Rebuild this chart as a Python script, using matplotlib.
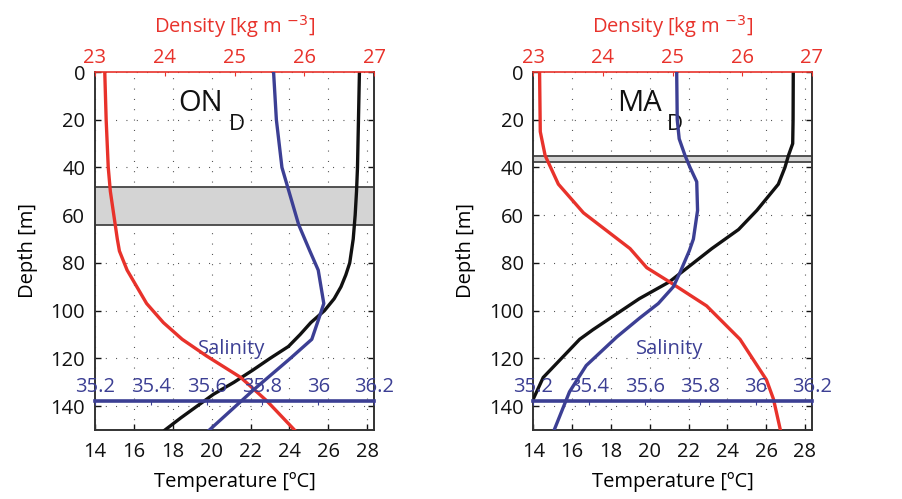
import matplotlib.pyplot as plt
import numpy as np

plt.rcParams['font.family'] = ['Open Sans', 'DejaVu Sans']

RED = '#e8322b'
BLUE = '#3c3f94'
BLACK = '#111111'

# ---- ON_D profiles (depth in m) ----
on_temp_depth = [0, 20, 40, 50, 60, 70, 80, 85, 90, 95, 100, 105, 110, 115, 120, 125, 130, 135, 140, 145, 150]
on_temp = [27.6, 27.55, 27.5, 27.45, 27.38, 27.28, 27.1, 26.9, 26.65, 26.3, 25.8, 25.1, 24.55, 23.95, 23.0,
           22.1, 21.15, 20.1, 19.25, 18.4, 17.6]
on_den_depth = [0, 20, 40, 50, 60, 70, 75, 83, 97, 105, 112, 119, 128, 138, 150]
on_den = [23.14, 23.16, 23.19, 23.22, 23.27, 23.32, 23.35, 23.46, 23.74, 23.98, 24.25, 24.6, 25.09, 25.47, 25.86]
on_sal_depth = [0, 20, 40, 48, 64, 75, 83, 97, 102, 112, 120, 133, 150]
on_sal = [35.84, 35.85, 35.87, 35.89, 35.93, 35.97, 36.0, 36.02, 36.006, 35.977, 35.9, 35.77, 35.61]
on_band = (48, 64)

# ---- MA_D profiles ----
ma_temp_depth = [0, 20, 30, 35, 40, 47, 58, 66, 74, 88, 95, 108, 112, 128, 137, 140]
ma_temp = [27.4, 27.39, 27.37, 27.15, 26.97, 26.63, 25.52, 24.58, 23.2, 21.0, 19.46, 17.07, 16.39, 14.51, 14.0, 13.8]
ma_den_depth = [0, 25, 35, 47, 59, 74, 82, 88, 98, 112, 129, 137, 150]
ma_den = [23.09, 23.1, 23.17, 23.36, 23.72, 24.39, 24.63, 24.96, 25.49, 25.97, 26.35, 26.45, 26.55]
ma_sal_depth = [0, 20, 28, 35, 40, 46, 58, 70, 75, 84, 90, 97, 103, 111, 123, 134, 150]
ma_sal = [35.715, 35.717, 35.724, 35.745, 35.763, 35.787, 35.79, 35.775, 35.76, 35.727, 35.703, 35.649,
          35.583, 35.5, 35.39, 35.33, 35.275]
ma_band = (35, 37.5)

temp_ticks = [14, 16, 18, 20, 22, 24, 26, 28]
den_ticks = [23, 24, 25, 26, 27]
sal_ticks = [35.2, 35.4, 35.6, 35.8, 36.0, 36.2]
sal_labels = ['35.2', '35.4', '35.6', '35.8', '36', '36.2']
depth_ticks = [0, 20, 40, 60, 80, 100, 120, 140]
SAL_AXIS_DEPTH = 138
FS = 14.5


def draw_panel(rect, temp_d, temp, den_d, den, sal_d, sal, band, name):
    ax = fig.add_axes(rect)
    ax.set_xlim(14, 28.35)
    ax.set_ylim(150, 0)
    ax.set_axisbelow(True)
    ax.grid(True, linestyle=(0, (0.8, 8.5)), color='#333333', linewidth=0.8)
    ax.set_xticks(temp_ticks)
    ax.set_yticks(depth_ticks)
    ax.tick_params(direction='in', length=4, width=1, labelsize=FS, colors=BLACK, right=True)
    ax.tick_params(axis='x', pad=9)
    ax.tick_params(axis='y', pad=7)
    for s in ['left', 'right', 'bottom']:
        ax.spines[s].set_color('#333333')
        ax.spines[s].set_linewidth(1.4)
    ax.spines['top'].set_visible(False)
    ax.set_xlabel('Temperature [ºC]', fontsize=FS, labelpad=7)
    ax.set_ylabel('Depth [m]', fontsize=FS, labelpad=9)

    # mixed layer band
    ax.axhspan(band[0], band[1], facecolor='#d4d4d4', edgecolor='none', zorder=1)
    ax.axhline(band[0], color='#444444', linewidth=1.3, zorder=1.5)
    ax.axhline(band[1], color='#444444', linewidth=1.3, zorder=1.5)

    ax.plot(temp, temp_d, color=BLACK, linewidth=2.4, zorder=3)

    ax.text(18.3, 13, name, fontsize=21, color=BLACK, va='center', ha='left')
    ax.text(20.9, 22, 'D', fontsize=16, color=BLACK, va='center', ha='left')
    ax.text(21.05, 116, 'Salinity', fontsize=FS, color=BLUE, ha='center', va='center')

    # density axis on top
    ax_den = ax.twiny()
    ax_den.set_xlim(23, 27)
    ax_den.set_xticks(den_ticks)
    ax_den.tick_params(direction='in', length=3, colors=RED, labelsize=FS, pad=3)
    for s in ['left', 'right', 'bottom']:
        ax_den.spines[s].set_visible(False)
    ax_den.spines['top'].set_color(RED)
    ax_den.spines['top'].set_linewidth(1.2)
    ax_den.set_xlabel('Density [kg m $^{-3}$]', fontsize=FS, color=RED, labelpad=11)
    ax_den.plot(den, den_d, color=RED, linewidth=2.4, zorder=3)

    # salinity axis drawn inside the panel
    ax_sal = ax.twiny()
    ax_sal.set_xlim(35.2, 36.2)
    ax_sal.set_xticks(sal_ticks)
    ax_sal.set_xticklabels(sal_labels)
    ax_sal.spines['top'].set_position(('data', SAL_AXIS_DEPTH))
    ax_sal.spines['top'].set_color(BLUE)
    ax_sal.spines['top'].set_linewidth(2.6)
    for s in ['left', 'right', 'bottom']:
        ax_sal.spines[s].set_visible(False)
    ax_sal.tick_params(direction='in', length=3, colors=BLUE, labelsize=FS, pad=3)
    ax_sal.plot(sal, sal_d, color=BLUE, linewidth=2.4, zorder=3)
    return ax


fig = plt.figure(figsize=(9.03, 4.99), dpi=100)
draw_panel([0.1052, 0.1383, 0.3090, 0.7174], on_temp_depth, on_temp, on_den_depth, on_den,
           on_sal_depth, on_sal, on_band, 'ON')
draw_panel([0.5906, 0.1383, 0.3083, 0.7174], ma_temp_depth, ma_temp, ma_den_depth, ma_den,
           ma_sal_depth, ma_sal, ma_band, 'MA')
fig.savefig('out.png', dpi=100)
